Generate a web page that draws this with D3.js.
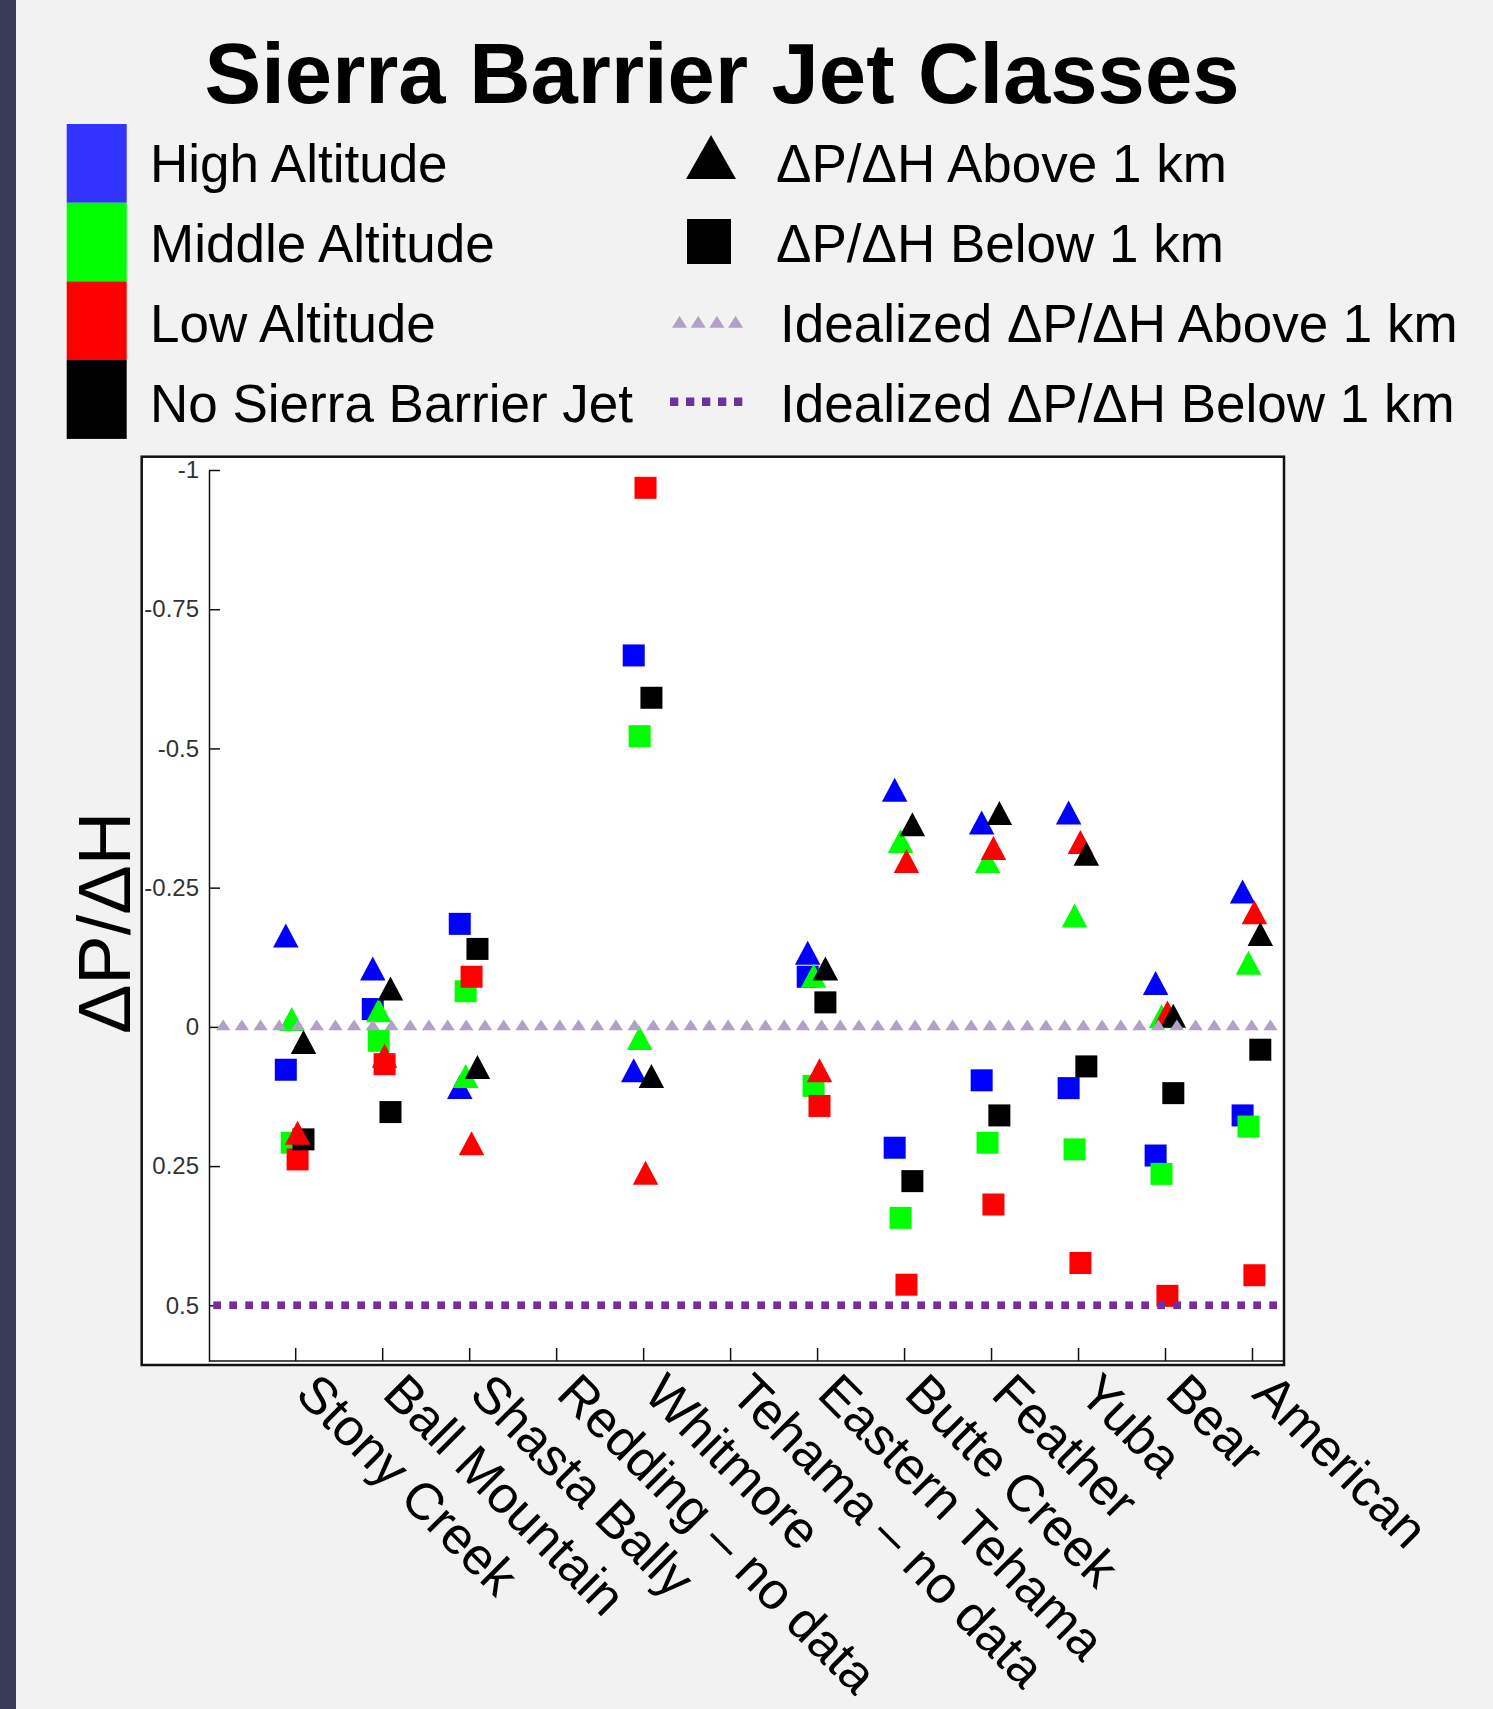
<!DOCTYPE html>
<html>
<head>
<meta charset="utf-8">
<script src="https://cdn.jsdelivr.net/npm/d3@7"></script>
<style>
  body { margin: 0; background: #f2f2f2; }
  svg { display: block; font-family: "Liberation Sans", Arial, sans-serif; }
</style>
</head>
<body>
<div id="chart"></div>
<script>
const sites = ["Stony Creek", "Ball Mountain", "Shasta Bally", "Redding – no data", "Whitmore",
	"Tehama – no data", "Eastern Tehama", "Butte Creek", "Feather", "Yuba", "Bear", "American"];
const classNames = ["High Altitude", "Middle Altitude", "Low Altitude", "No Sierra Barrier Jet"];
const classColors = ["#0000ff", "#00ff00", "#ff0000", "#000000"];
const legendColors = ["#3333ff", "#00ff00", "#ff0000", "#000000"];
const shapeLabels = ["ΔP/ΔH Above 1 km", "ΔP/ΔH Below 1 km", "Idealized ΔP/ΔH Above 1 km", "Idealized ΔP/ΔH Below 1 km"];

// ΔP/ΔH above 1 km (triangles), null = no data
const aboveHigh = [-0.164, -0.105, 0.108, null, 0.078, null, -0.133, -0.426, -0.367, -0.385, -0.079, -0.243];
const aboveMiddle = [-0.014, -0.030, 0.088, null, 0.020, null, -0.092, -0.334, -0.298, -0.200, -0.019, -0.115];
const aboveLow = [0.190, 0.052, 0.209, null, 0.262, null, 0.078, -0.298, -0.321, -0.332, -0.026, -0.206];
const aboveNone = [0.027, -0.069, 0.072, null, 0.088, null, -0.105, -0.364, -0.384, -0.311, -0.020, -0.167];

// ΔP/ΔH below 1 km (squares)
const belowHigh = [0.077, -0.032, -0.185, null, -0.667, null, -0.090, 0.217, 0.096, 0.110, 0.231, 0.159];
const belowMiddle = [0.208, 0.025, -0.064, null, -0.522, null, 0.106, 0.343, 0.208, 0.220, 0.264, 0.179];
const belowLow = [0.238, 0.067, -0.090, null, -0.968, null, 0.142, 0.463, 0.319, 0.424, 0.483, 0.446];
const belowNone = [0.202, 0.153, -0.140, null, -0.591, null, -0.044, 0.277, 0.159, 0.071, 0.119, 0.041];

const yTicks = [-1, -0.75, -0.5, -0.25, 0, 0.25, 0.5];
const idealAbove = 0;
const idealBelow = 0.5;

const width = 1493;
const height = 1709;

function triPath(w, h) {
	return `M0,${-h / 2}L${w / 2},${h / 2}L${-w / 2},${h / 2}Z`;
}

const svg = d3.select("#chart").append("svg").attr("width", width).attr("height", height);
svg.append("rect").attr("width", width).attr("height", height).attr("fill", "#f2f2f2");
svg.append("rect").attr("width", 16).attr("height", height).attr("fill", "#393c57");

svg.append("text")
	.attr("x", 722)
	.attr("y", 103)
	.attr("text-anchor", "middle")
	.attr("font-size", 85)
	.attr("font-weight", "bold")
	.text("Sierra Barrier Jet Classes");

// legend, left column: colour blocks
classNames.forEach((name, i) => {
	svg.append("rect")
		.attr("x", 66.7)
		.attr("y", 124 + i * 78.7)
		.attr("width", 60)
		.attr("height", 78.8)
		.attr("fill", legendColors[i]);
	svg.append("text").attr("x", 150).attr("y", 182 + i * 80).attr("font-size", 53).text(name);
});

// legend, right column: shapes
shapeLabels.forEach((name, i) => {
	svg.append("text")
		.attr("x", i < 2 ? 776 : 780)
		.attr("y", 182 + i * 80)
		.attr("font-size", 53)
		.text(name);
});
svg.append("path").attr("d", triPath(50, 44)).attr("transform", "translate(711,157)").attr("fill", "#000");
svg.append("rect").attr("x", 687).attr("y", 219).attr("width", 44).attr("height", 45).attr("fill", "#000");
svg.selectAll(".legTri")
	.data(d3.range(4))
	.join("path")
	.attr("d", triPath(15, 12))
	.attr("transform", (k) => `translate(${679.5 + k * 18.7},321.7)`)
	.attr("fill", "#b1a0c7");
svg.selectAll(".legSq")
	.data(d3.range(5))
	.join("rect")
	.attr("x", (k) => 670 + k * 16)
	.attr("y", 397.5)
	.attr("width", 8.3)
	.attr("height", 8.5)
	.attr("fill", "#7030a0");

// plot frame
svg.append("rect")
	.attr("x", 141.7)
	.attr("y", 456.7)
	.attr("width", 1142.3)
	.attr("height", 908.3)
	.attr("fill", "#fff")
	.attr("stroke", "#111")
	.attr("stroke-width", 2.5);

const y = d3.scaleLinear().domain([-1, 0.6]).range([470, 1361]);
const x = d3.scalePoint().domain(sites).range([295.2, 1252]);
const offset = d3.scalePoint().domain(classNames).range([-9.4, 8.3]);

const yAxis = svg.append("g")
	.attr("transform", "translate(209,0)")
	.call(d3.axisLeft(y).tickValues(yTicks).tickSize(-11).tickSizeOuter(0).tickPadding(10).tickFormat((d) => String(d)));
yAxis.selectAll("path, line").attr("stroke", "#111").attr("stroke-width", 1.5);
yAxis.selectAll("text").attr("font-size", 24).attr("fill", "#333").attr("font-family", "Liberation Sans, Arial, sans-serif");

svg.append("line")
	.attr("x1", 209)
	.attr("x2", 1284)
	.attr("y1", 1361)
	.attr("y2", 1361)
	.attr("stroke", "#111")
	.attr("stroke-width", 1.5);

const xAxis = svg.append("g")
	.attr("transform", "translate(0,1361)")
	.call(d3.axisBottom(x).tickSize(-13).tickSizeOuter(0));
xAxis.select(".domain").remove();
xAxis.selectAll("line").attr("stroke", "#111").attr("stroke-width", 1.5);
xAxis.selectAll("text")
	.attr("x", 0)
	.attr("y", 0)
	.attr("dy", 0)
	.attr("text-anchor", "start")
	.attr("transform", "translate(-2,35) rotate(45)")
	.attr("font-size", 52)
	.attr("fill", "#000")
	.attr("font-family", "Liberation Sans, Arial, sans-serif");

svg.append("text")
	.attr("transform", "translate(130,923) rotate(-90)")
	.attr("text-anchor", "middle")
	.attr("font-size", 74)
	.text("ΔP/ΔH");

// markers
function toPoints(series) {
	const pts = [];
	series.forEach((vals, ci) => {
		vals.forEach((v, si) => {
			if (v !== null) pts.push({ site: sites[si], cls: classNames[ci], color: classColors[ci], value: v });
		});
	});
	return pts;
}
const belowPoints = toPoints([belowHigh, belowMiddle, belowLow, belowNone]);
const abovePoints = toPoints([aboveHigh, aboveMiddle, aboveLow, aboveNone]);

svg.append("g")
	.selectAll("rect")
	.data(belowPoints)
	.join("rect")
	.attr("x", (d) => x(d.site) + offset(d.cls) - 11)
	.attr("y", (d) => y(d.value) - 11)
	.attr("width", 22)
	.attr("height", 22)
	.attr("fill", (d) => d.color);

svg.append("g")
	.selectAll("path")
	.data(abovePoints)
	.join("path")
	.attr("d", triPath(25.5, 24))
	.attr("transform", (d) => `translate(${x(d.site) + offset(d.cls)},${y(d.value)})`)
	.attr("fill", (d) => d.color);

// idealized lines (drawn over the markers, as in the original)
svg.append("g")
	.selectAll("path")
	.data(d3.range(57))
	.join("path")
	.attr("d", triPath(14.3, 10.7))
	.attr("transform", (k) => `translate(${223.2 + k * 18.7},${y(idealAbove) - 2})`)
	.attr("fill", "#b1a0c7");

svg.append("g")
	.selectAll("rect")
	.data(d3.range(67))
	.join("rect")
	.attr("x", (k) => 213.3 + k * 16)
	.attr("y", y(idealBelow) - 3.9)
	.attr("width", 7.7)
	.attr("height", 7.7)
	.attr("fill", "#7030a0");
</script>
</body>
</html>
